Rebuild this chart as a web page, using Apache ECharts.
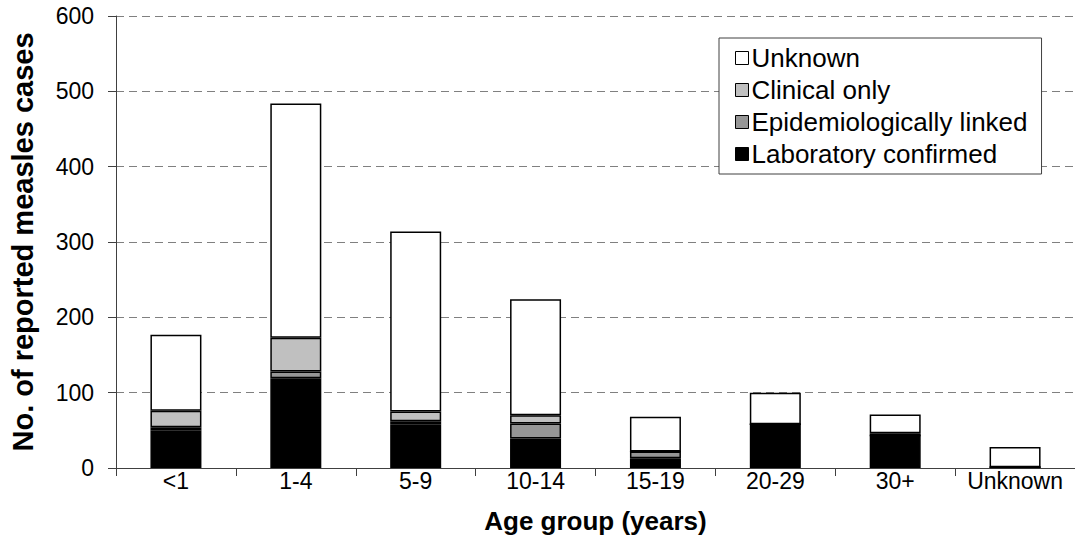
<!DOCTYPE html>
<html>
<head>
<meta charset="utf-8">
<script src="https://cdn.jsdelivr.net/npm/echarts@6/dist/echarts.min.js"></script>
<style>
html,body{margin:0;padding:0;background:#fff;}
#chart{width:1075px;height:559px;}
</style>
</head>
<body>
<div id="chart"></div>
<script>
const categories = ['<1', '1-4', '5-9', '10-14', '15-19', '20-29', '30+', 'Unknown'];
const labConfirmed = [50, 119, 58, 39, 13, 58, 43, 1];
const epiLinked = [4, 9, 4, 20, 9, 0, 0, 0];
const clinicalOnly = [22, 45, 13, 11, 0, 0, 3, 0];
const unknownCases = [101, 311, 239, 154, 46, 42, 25, 27];
const yTicks = { min: 0, max: 600, interval: 100 };

const FONT = '"Liberation Sans", Arial, sans-serif';
const chart = echarts.init(document.getElementById('chart'), null, { renderer: 'svg' });

function seriesOf(name, data, color) {
  return {
    name: name,
    type: 'bar',
    stack: 'total',
    data: data,
    barWidth: 51,
    itemStyle: { color: color, borderColor: '#000', borderWidth: 1.5 },
    emphasis: { disabled: true }
  };
}

chart.setOption({
  animation: false,
  backgroundColor: '#fff',
  textStyle: { fontFamily: FONT },
  grid: { left: 113, top: 16, width: 971, height: 452, containLabel: false },
  legend: {
    orient: 'vertical',
    left: 719,
    top: 38,
    padding: [7, 14, 7, 16],
    itemGap: 6,
    itemWidth: 13,
    itemHeight: 13,
    icon: 'rect',
    backgroundColor: '#fff',
    borderColor: '#404040',
    borderWidth: 1,
    textStyle: { fontFamily: FONT, fontSize: 26, color: '#000', lineHeight: 26, padding: [0, 0, 0, -2] },
    itemStyle: { borderColor: '#000', borderWidth: 1 },
    data: ['Unknown', 'Clinical only', 'Epidemiologically linked', 'Laboratory confirmed']
  },
  xAxis: {
    type: 'category',
    data: categories,
    name: 'Age group (years)',
    nameLocation: 'middle',
    nameGap: 40,
    nameTextStyle: { fontFamily: FONT, fontSize: 26, fontWeight: 'bold', color: '#000', verticalAlign: 'top' },
    axisLine: { lineStyle: { color: '#404040', width: 1 } },
    axisTick: { show: true, length: 8, interval: 0, lineStyle: { color: '#404040' } },
    axisLabel: { interval: 0, hideOverlap: false, margin: 1, fontFamily: FONT, fontSize: 23, color: '#000', verticalAlign: 'top' }
  },
  yAxis: {
    type: 'value',
    min: yTicks.min,
    max: yTicks.max,
    interval: yTicks.interval,
    name: 'No. of reported measles cases',
    nameLocation: 'middle',
    nameGap: 79,
    nameRotate: 90,
    nameTextStyle: { fontFamily: FONT, fontSize: 29, fontWeight: 'bold', color: '#000' },
    axisLine: { show: true, lineStyle: { color: '#404040', width: 1 } },
    axisTick: { show: true, length: 8, lineStyle: { color: '#404040' } },
    axisLabel: { margin: 22, fontFamily: FONT, fontSize: 23, color: '#000' },
    splitLine: { show: true, lineStyle: { color: '#808080', type: [8, 5], width: 1 } }
  },
  series: [
    seriesOf('Laboratory confirmed', labConfirmed, '#000000'),
    seriesOf('Epidemiologically linked', epiLinked, '#969696'),
    seriesOf('Clinical only', clinicalOnly, '#C0C0C0'),
    seriesOf('Unknown', unknownCases, '#FFFFFF')
  ]
});
</script>
</body>
</html>
